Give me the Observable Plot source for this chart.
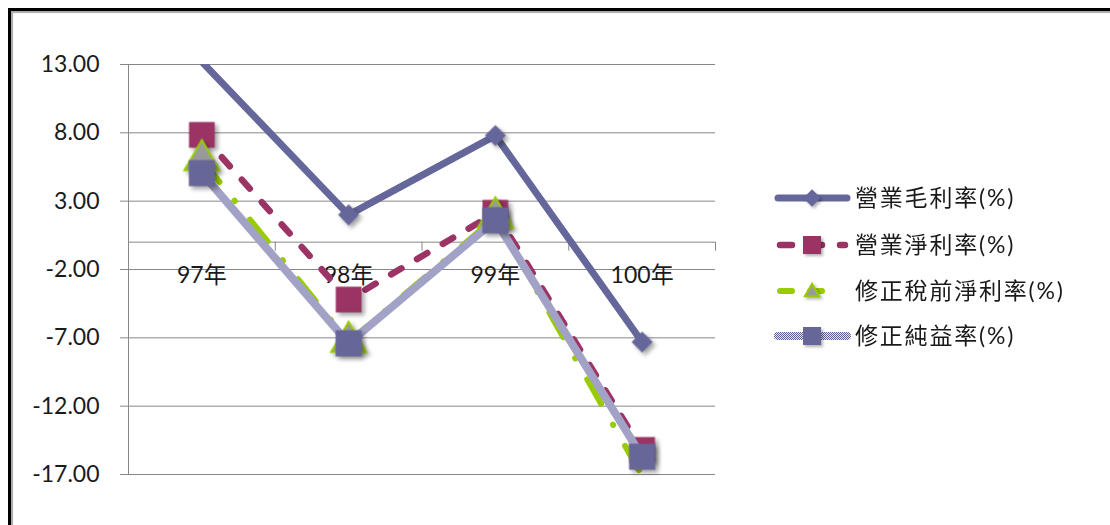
<!DOCTYPE html>
<html>
<head>
<meta charset="utf-8">
<script src="https://cdn.jsdelivr.net/npm/d3@7"></script>
<script src="https://cdn.jsdelivr.net/npm/@observablehq/plot@0.6"></script>
<style>
  body { margin: 0; background: #fff; }
  #wrap { position: relative; width: 1110px; height: 525px; overflow: hidden; background: #fff;
          font-family: Lato, "Noto Sans CJK TC", sans-serif; }
  #frame { position: absolute; left: 8px; top: 8px; width: 1300px; height: 800px;
           border-left: 3px solid #000; border-top: 3px solid #000;
           box-shadow: inset 2px 2px 1px #a8a8a8; }
  #chart, #legend { position: absolute; left: 0; top: 0; }
  #chart g[aria-label="dot"] { filter: drop-shadow(3px 3px 2px rgba(0,0,0,0.35)); }
  #legend .sym { filter: drop-shadow(2px 2px 1.5px rgba(0,0,0,0.3)); }
</style>
</head>
<body>
<div id="wrap">
  <div id="frame"></div>
  <div id="chart"></div>
  <svg id="legend" width="1110" height="525"></svg>
</div>
<script>
// Fiscal years and the four margin series (%)
const years = ["97年", "98年", "99年", "100年"];
const grossMargin     = [13.2, 2.0, 7.8, -7.3];     // 營業毛利率
const operatingMargin = [7.85, -4.2, 2.15, -15.2];  // 營業淨利率
const adjPretaxMargin = [6.0, -7.3, 1.8, -17.1];    // 修正稅前淨利率
const adjNetMargin    = [5.05, -7.4, 1.6, -15.7];   // 修正純益率
const yTicks = [13, 8, 3, -2, -7, -12, -17];
const yDomain = [-17, 13];

const series = [
  {name: "營業毛利率(%)", values: grossMargin, stroke: "#65679b", width: 7, dash: null,
   symbol: "diamond2", r: 9.5, fill: "#65679b", mstroke: "none"},
  {name: "營業淨利率(%)", values: operatingMargin, stroke: "#9b3464", width: 6.5, dash: "12 18",
   symbol: "square", r: 14.5, fill: "#9b3464", mstroke: "none"},
  {name: "修正稅前淨利率(%)", values: adjPretaxMargin, stroke: "#99cc00", width: 6, dash: "28 24 0.5 24",
   symbol: "triangle", r: 13, fill: "#9a9a9a", mstroke: "#99cc00"},
  {name: "修正純益率(%)", values: adjNetMargin, stroke: "url(#hatch)", width: 8, dash: null,
   symbol: "square", r: 14.7, fill: "#666699", mstroke: "none"}
];

const W = 1110, H = 525;
const mL = 128, mR = 395, mT = 64, mB = 51;
const unitPx = (H - mT - mB) / (yDomain[1] - yDomain[0]);
const tickLen = 9 / unitPx;
const boundaries = d3.range(years.length + 1).map(i => i - 0.5);
const font = 'Lato, "Noto Sans CJK TC", sans-serif';

const marks = [
  Plot.gridY(yTicks, {stroke: "#878787", strokeOpacity: 1}),
  Plot.axisY(yTicks, {tickFormat: d => d.toFixed(2), tickSize: 8, tickPadding: 21,
                      stroke: "#878787", fill: "#1a1a1a", fontSize: 23, label: null}),
  Plot.ruleX([boundaries[0]], {stroke: "#878787"}),
  Plot.ruleY([0], {stroke: "#878787"}),
  Plot.ruleX(boundaries, {y1: 0, y2: -tickLen, stroke: "#878787"}),
  Plot.text(years, {x: (d, i) => i, y: 0, dy: 33, text: d => d, fontSize: 23, fill: "#1a1a1a"})
];

for (const s of series) {
  const rows = s.values.map((v, i) => ({i, v}));
  marks.push(Plot.line(rows, {x: "i", y: "v", stroke: s.stroke, strokeWidth: s.width,
    strokeDasharray: s.dash, strokeLinecap: s.dash ? "round" : "butt", strokeLinejoin: "round", clip: true}));
  marks.push(Plot.dot(rows.filter(d => d.v >= yDomain[0] && d.v <= yDomain[1]),
    {x: "i", y: "v", symbol: s.symbol, r: s.r, fill: s.fill, stroke: s.mstroke, strokeWidth: 2}));
}

const chart = Plot.plot({
  width: W, height: H,
  marginLeft: mL, marginRight: mR, marginTop: mT, marginBottom: mB,
  x: {type: "linear", domain: [boundaries[0], boundaries[boundaries.length - 1]], axis: null},
  y: {domain: yDomain, axis: null},
  style: {background: "transparent", fontFamily: font, fontSize: "23px", color: "#1a1a1a"},
  marks
});

// Dithered lavender texture for the 修正純益率 line
function addHatch(sel, id) {
  const p = sel.append("pattern").attr("id", id).attr("patternUnits", "userSpaceOnUse")
    .attr("width", 2).attr("height", 2);
  p.append("rect").attr("width", 2).attr("height", 2).attr("fill", "#e6e6f2");
  p.append("rect").attr("width", 1).attr("height", 1).attr("fill", "#5c5e98");
  p.append("rect").attr("x", 1).attr("y", 1).attr("width", 1).attr("height", 1).attr("fill", "#5c5e98");
}
addHatch(d3.select(chart).insert("defs", ":first-child"), "hatch");

document.getElementById("chart").appendChild(chart);

// Legend on the right
const lg = d3.select("#legend");
addHatch(lg.append("defs"), "hatchL");

const rowY = [198, 245, 291, 336];
const x0 = 778, x1 = 847, xc = 812;
series.forEach((s, k) => {
  const y = rowY[k];
  const g = lg.append("g");
  const lineEnd = s.symbol === "triangle" ? 834 : x1;
  g.append("line").attr("x1", x0 + (s.dash ? 2 : 0)).attr("x2", lineEnd - (s.dash ? 2 : 0))
    .attr("y1", y).attr("y2", y)
    .attr("stroke", s.stroke === "url(#hatch)" ? "url(#hatchL)" : s.stroke)
    .attr("stroke-width", s.width)
    .attr("stroke-linecap", "round")
    .attr("stroke-dasharray", s.dash ? "12 18" : null);
  const sym = {diamond2: d3.symbolDiamond2, square: d3.symbolSquare, triangle: d3.symbolTriangle}[s.symbol];
  const size = s.symbol === "square" ? 18 * 18 : s.symbol === "diamond2" ? 190 : 90;
  g.append("path").attr("class", "sym")
    .attr("transform", `translate(${xc},${y + (s.symbol === "triangle" ? 1 : 0)})`)
    .attr("d", d3.symbol(sym, size)())
    .attr("fill", s.fill).attr("stroke", s.mstroke).attr("stroke-width", 2);
  g.append("text").attr("x", 855).attr("y", y).attr("dy", "0.36em")
    .attr("font-size", 23).attr("letter-spacing", "1.8px").attr("fill", "#1a1a1a")
    .attr("font-family", font)
    .text(s.name);
});
</script>
</body>
</html>
